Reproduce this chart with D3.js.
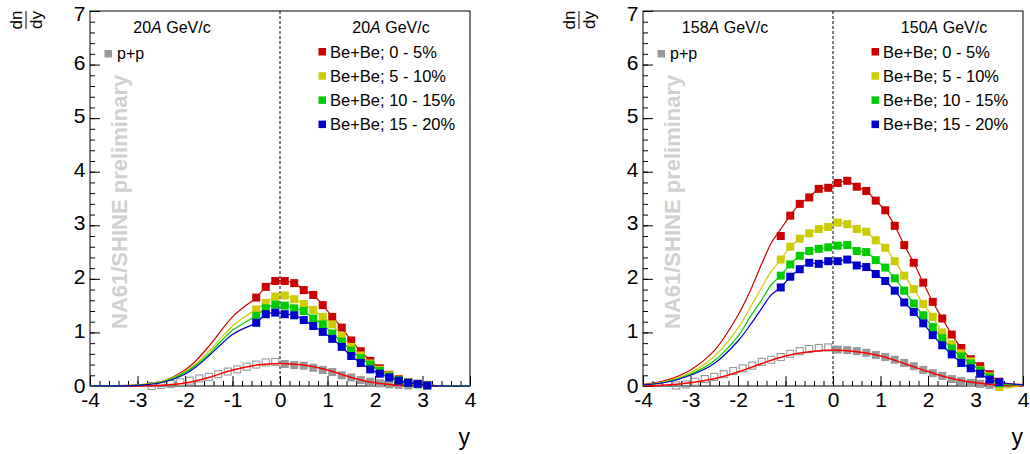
<!DOCTYPE html>
<html>
<head>
<meta charset="utf-8">
<script src="https://cdn.jsdelivr.net/npm/d3@7"></script>
<style>
    body { margin: 0; background: #fff; }
    svg { display: block; font-family: "Liberation Sans", Arial, Helvetica, sans-serif; }
</style>
</head>
<body>
<svg id="chart" width="1030" height="454"></svg>
<script>
// rapidity bins of the measured points
var bins20 = [-0.5, -0.3, -0.1, 0.1, 0.3, 0.5, 0.7, 0.9, 1.1, 1.3, 1.5, 1.7, 1.9, 2.1, 2.3, 2.5, 2.7, 2.9, 3.1];
var bins150 = [-1.1, -0.9, -0.7, -0.5, -0.3, -0.1, 0.1, 0.3, 0.5, 0.7, 0.9, 1.1, 1.3, 1.5, 1.7, 1.9, 2.1, 2.3, 2.5, 2.7, 2.9, 3.1, 3.3, 3.5];

// Be+Be at 20A GeV/c
var bebe20_0_5 = [1.65, 1.85, 1.96, 1.96, 1.92, 1.79, 1.70, 1.51, 1.29, 1.09, 0.85, 0.65, 0.47, 0.33, 0.21, 0.13, 0.07, 0.04, 0.02];
var bebe20_5_10 = [1.43, 1.55, 1.67, 1.69, 1.62, 1.53, 1.42, 1.29, 1.15, 0.93, 0.73, 0.57, 0.42, 0.30, 0.20, 0.12, 0.07, 0.04, 0.02];
var bebe20_10_15 = [1.31, 1.45, 1.52, 1.50, 1.45, 1.40, 1.26, 1.15, 0.98, 0.83, 0.66, 0.52, 0.40, 0.28, 0.18, 0.11, 0.06, 0.03, 0.01];
var bebe20_15_20 = [1.18, 1.34, 1.37, 1.34, 1.32, 1.23, 1.12, 1.01, 0.88, 0.73, 0.56, 0.43, 0.31, 0.23, 0.16, 0.10, 0.06, 0.04, 0.01];

// Be+Be at 150A GeV/c
var bebe150_0_5 = [2.80, 3.18, 3.40, 3.52, 3.68, 3.70, 3.79, 3.83, 3.72, 3.64, 3.46, 3.28, 2.99, 2.63, 2.30, 1.93, 1.57, 1.26, 0.96, 0.71, 0.50, 0.37, 0.22, 0.08];
var bebe150_5_10 = [2.36, 2.60, 2.75, 2.85, 2.93, 2.97, 3.05, 3.02, 2.93, 2.88, 2.72, 2.58, 2.33, 2.06, 1.81, 1.53, 1.29, 1.00, 0.78, 0.61, 0.46, 0.30, 0.18, -0.02];
var bebe150_10_15 = [2.06, 2.27, 2.43, 2.52, 2.56, 2.59, 2.62, 2.63, 2.52, 2.50, 2.35, 2.21, 2.01, 1.78, 1.54, 1.32, 1.10, 0.89, 0.70, 0.55, 0.42, 0.29, 0.16, 0.05];
var bebe150_15_20 = [1.84, 2.04, 2.18, 2.30, 2.28, 2.33, 2.33, 2.36, 2.25, 2.22, 2.09, 1.96, 1.78, 1.56, 1.38, 1.17, 0.95, 0.76, 0.59, 0.43, 0.33, 0.23, 0.12, 0.07];

// p+p points: measured (filled) and reflected (open)
var ppBins20 = [0.1, 0.3, 0.5, 0.7, 0.9, 1.1, 1.3, 1.5, 1.7, 1.9, 2.1, 2.3, 2.5, 2.7];
var pp20 = [0.41, 0.39, 0.38, 0.34, 0.30, 0.26, 0.20, 0.16, 0.11, 0.08, 0.05, 0.03, 0.02, 0.01];
var ppReflBins20 = [-0.1, -0.3, -0.5, -0.7, -0.9, -1.1, -1.3, -1.5, -1.7, -1.9, -2.1, -2.3, -2.5, -2.7];
var ppRefl20 = [0.45, 0.44, 0.40, 0.36, 0.31, 0.27, 0.22, 0.17, 0.14, 0.10, 0.07, 0.04, 0.02, 0.00];
var ppBins158 = [0.1, 0.3, 0.5, 0.7, 0.9, 1.1, 1.3, 1.5, 1.7, 1.9, 2.1, 2.3, 2.5, 2.7, 2.9, 3.1, 3.3, 3.5];
var pp158 = [0.68, 0.67, 0.65, 0.62, 0.58, 0.54, 0.49, 0.43, 0.37, 0.30, 0.24, 0.19, 0.13, 0.09, 0.06, 0.04, 0.02, 0.01];
var ppReflBins158 = [-0.1, -0.3, -0.5, -0.7, -0.9, -1.1, -1.3, -1.5, -1.7, -1.9, -2.1, -2.3, -2.5, -2.7, -2.9, -3.1, -3.3];
var ppRefl158 = [0.72, 0.71, 0.69, 0.65, 0.60, 0.54, 0.49, 0.45, 0.38, 0.33, 0.28, 0.22, 0.17, 0.13, 0.08, 0.03, 0.01];

// fitted curves on the backward side
var fitBins20 = [-4, -3.5, -3, -2.5, -2, -1.75, -1.5, -1.25, -1, -0.75];
var fit20_0_5 = [0, 0.005, 0.02, 0.08, 0.30, 0.49, 0.74, 1.02, 1.29, 1.48];
var fit20_5_10 = [0, 0.005, 0.02, 0.08, 0.27, 0.43, 0.64, 0.89, 1.12, 1.29];
var fit20_10_15 = [0, 0.004, 0.015, 0.07, 0.25, 0.40, 0.59, 0.83, 1.04, 1.18];
var fit20_15_20 = [0, 0.003, 0.013, 0.06, 0.22, 0.37, 0.56, 0.77, 0.96, 1.08];
var tailBins20 = [3.5, 4];
var tail20 = [0, 0];

var fitBins150 = [-4, -3.5, -3, -2.5, -2, -1.75, -1.5, -1.3];
var fitBins150red = [-4, -3.5, -3, -2.5, -2, -1.75, -1.5, -1.3, -1.1];
var fit150_0_5 = [0.03, 0.11, 0.30, 0.66, 1.32, 1.76, 2.28, 2.67, 2.93];
var fit150_5_10 = [0.02, 0.09, 0.25, 0.55, 1.08, 1.45, 1.84, 2.14];
var fit150_10_15 = [0.02, 0.08, 0.22, 0.47, 0.93, 1.28, 1.61, 1.89];
var fit150_15_20 = [0.02, 0.07, 0.20, 0.42, 0.84, 1.13, 1.45, 1.70];
var tailBins150 = [4];

// p+p fits
var ppFitBins = [-4, -3.5, -3, -2.5, -2, -1.5, -1, -0.5, 0, 0.5, 1, 1.5, 2, 2.5, 3, 3.5, 4];
var ppFit20 = [0, 0, 0.002, 0.012, 0.055, 0.16, 0.30, 0.39, 0.42, 0.39, 0.30, 0.16, 0.06, 0.015, 0.002, 0, 0];
var ppFit158 = [0.005, 0.02, 0.06, 0.135, 0.26, 0.42, 0.56, 0.64, 0.67, 0.64, 0.56, 0.42, 0.27, 0.14, 0.06, 0.02, 0.005];

var xTicks = [-4, -3, -2, -1, 0, 1, 2, 3, 4];
var xTickLabels = ['-4', '-3', '-2', '-1', '0', '1', '2', '3', '4'];
var yTicks = [0, 1, 2, 3, 4, 5, 6, 7];
var yTickLabels = ['0', '1', '2', '3', '4', '5', '6', '7'];
var legendLabels = ['Be+Be; 0 - 5%', 'Be+Be; 5 - 10%', 'Be+Be; 10 - 15%', 'Be+Be; 15 - 20%'];
var seriesColors = ['#cc0000', '#cccc00', '#00cc00', '#0000cc'];

function pairs(xs, vs) {
    return xs.map(function (d, i) { return [d, vs[i]]; });
}

var svg = d3.select('#chart');
var fontFamily = '"Liberation Sans", Arial, Helvetica, sans-serif';

function drawPanel(p) {
    var left = p.left;
    var x = d3.scaleLinear().domain([-4, 4]).range([left, left + 380]);
    var y = d3.scaleLinear().domain([0, 7]).range([386, 11]);
    var g = svg.append('g');

    // watermark
    g.append('text')
        .attr('transform', 'translate(' + (left + 37) + ',329) rotate(-90)')
        .attr('font-size', 22)
        .attr('font-weight', 'bold')
        .attr('fill', '#d0d0d0')
        .text('NA61/SHINE preliminary');

    // minor + major ticks, pointing inwards
    var minor = d3.range(-4, 4.001, 0.2);
    g.append('g')
        .attr('transform', 'translate(0,386)')
        .call(d3.axisBottom(x).tickValues(minor).tickSize(-5).tickFormat(''))
        .call(function (a) { a.select('.domain').remove(); });
    var xa = g.append('g')
        .attr('transform', 'translate(0,386)')
        .call(d3.axisBottom(x).tickValues(xTicks).tickSize(-10).tickPadding(6)
            .tickFormat(function (d, i) { return xTickLabels[i]; }))
        .call(function (a) { a.select('.domain').remove(); });
    xa.attr('font-size', 21).attr('font-family', fontFamily);

    g.append('g')
        .attr('transform', 'translate(' + left + ',0)')
        .call(d3.axisLeft(y).tickValues(d3.range(0, 7.001, 0.2)).tickSize(-5).tickFormat(''))
        .call(function (a) { a.select('.domain').remove(); });
    var ya = g.append('g')
        .attr('transform', 'translate(' + left + ',0)')
        .call(d3.axisLeft(y).tickValues(yTicks).tickSize(-10).tickPadding(4.5)
            .tickFormat(function (d, i) { return yTickLabels[i]; }))
        .call(function (a) { a.select('.domain').remove(); });
    ya.attr('font-size', 21).attr('font-family', fontFamily);
    // ROOT keeps the end labels inside the frame height
    ya.selectAll('text').attr('dy', function (d) {
        return d === 7 ? '0.45em' : d === 0 ? '0.3em' : '0.22em';
    });
    g.selectAll('.tick line').attr('stroke', '#000');

    // y = 0 dashed line
    g.append('line')
        .attr('x1', x(0)).attr('x2', x(0))
        .attr('y1', y(7)).attr('y2', y(0))
        .attr('stroke', '#000')
        .attr('stroke-dasharray', '3,2');

    g.append('rect')
        .attr('x', left).attr('y', 11)
        .attr('width', 380).attr('height', 375)
        .attr('fill', 'none')
        .attr('stroke', '#000');

    var line = d3.line()
        .x(function (d) { return x(d[0]); })
        .y(function (d) { return y(d[1]); })
        .curve(d3.curveCatmullRom.alpha(0.5));

    // p+p
    g.append('g').selectAll('rect')
        .data(pairs(p.ppReflBins, p.ppRefl))
        .enter().append('rect')
        .attr('x', function (d) { return x(d[0]) - 3.5; })
        .attr('y', function (d) { return y(d[1]) - 3.5; })
        .attr('width', 7).attr('height', 7)
        .attr('fill', 'none')
        .attr('stroke', '#999')
        .attr('stroke-width', 1.1);
    g.append('g').selectAll('rect')
        .data(pairs(p.ppBins, p.pp))
        .enter().append('rect')
        .attr('x', function (d) { return x(d[0]) - 4; })
        .attr('y', function (d) { return y(d[1]) - 4; })
        .attr('width', 8).attr('height', 8)
        .attr('fill', '#999');
    g.append('path')
        .datum(pairs(ppFitBins, p.ppFit))
        .attr('d', line)
        .attr('fill', 'none')
        .attr('stroke', '#ff0000')
        .attr('stroke-width', 1.5);

    // Be+Be series
    p.series.forEach(function (s, i) {
        var pts = pairs(p.bins, s.values);
        var knots = pairs(s.fitBins, s.fit)
            .concat(pts.slice(s.skip || 0))
            .concat(pairs(p.tailBins, s.tail));
        g.append('path')
            .datum(knots)
            .attr('d', line)
            .attr('fill', 'none')
            .attr('stroke', seriesColors[i])
            .attr('stroke-width', 1.2);
        g.append('g').selectAll('rect')
            .data(pts)
            .enter().append('rect')
            .attr('x', function (d) { return x(d[0]) - 4; })
            .attr('y', function (d) { return y(d[1]) - 4; })
            .attr('width', 8).attr('height', 8)
            .attr('fill', seriesColors[i]);
    });

    // legends
    g.append('text')
        .attr('x', left + 82).attr('y', 33)
        .attr('text-anchor', 'middle')
        .attr('font-size', 16)
        .call(function (t) {
            t.append('tspan').text(p.ppEnergy);
            t.append('tspan').attr('font-style', 'italic').text('A');
            t.append('tspan').text(' GeV/c');
        });
    g.append('rect')
        .attr('x', left + 14.5).attr('y', 50)
        .attr('width', 7.5).attr('height', 7.5)
        .attr('fill', '#999');
    g.append('text')
        .attr('x', left + 27).attr('y', 59)
        .attr('font-size', 16)
        .text('p+p');

    g.append('text')
        .attr('x', left + 301).attr('y', 33)
        .attr('text-anchor', 'middle')
        .attr('font-size', 16)
        .call(function (t) {
            t.append('tspan').text(p.bebeEnergy);
            t.append('tspan').attr('font-style', 'italic').text('A');
            t.append('tspan').text(' GeV/c');
        });
    legendLabels.forEach(function (lab, i) {
        var base = 57.5 + i * 24.2;
        g.append('rect')
            .attr('x', left + 228.5).attr('y', base - 9.5)
            .attr('width', 7.5).attr('height', 7.5)
            .attr('fill', seriesColors[i]);
        g.append('text')
            .attr('x', left + 240).attr('y', base)
            .attr('font-size', 16.5)
            .text(lab);
    });

    // axis titles
    var frac = g.append('g')
        .attr('transform', 'translate(' + (left - 64) + ',20) rotate(-90)')
        .attr('font-size', 17)
        .attr('text-anchor', 'middle');
    frac.append('text').attr('x', 0).attr('y', -4.5).text('dn');
    frac.append('line')
        .attr('x1', -9).attr('x2', 9)
        .attr('y1', 0).attr('y2', 0)
        .attr('stroke', '#000');
    frac.append('text').attr('x', 0).attr('y', 16).text('dy');

    g.append('text')
        .attr('x', left + 380).attr('y', 445)
        .attr('text-anchor', 'end')
        .attr('font-size', 23)
        .text('y');
}

drawPanel({
    left: 90,
    ppEnergy: '20',
    bebeEnergy: '20',
    bins: bins20,
    tailBins: tailBins20,
    ppBins: ppBins20, pp: pp20,
    ppReflBins: ppReflBins20, ppRefl: ppRefl20,
    ppFit: ppFit20,
    series: [
        { values: bebe20_0_5, fitBins: fitBins20, fit: fit20_0_5, tail: tail20 },
        { values: bebe20_5_10, fitBins: fitBins20, fit: fit20_5_10, tail: tail20 },
        { values: bebe20_10_15, fitBins: fitBins20, fit: fit20_10_15, tail: tail20 },
        { values: bebe20_15_20, fitBins: fitBins20, fit: fit20_15_20, tail: tail20 },
    ],
});

drawPanel({
    left: 643,
    ppEnergy: '158',
    bebeEnergy: '150',
    bins: bins150,
    tailBins: tailBins150,
    ppBins: ppBins158, pp: pp158,
    ppReflBins: ppReflBins158, ppRefl: ppRefl158,
    ppFit: ppFit158,
    series: [
        { values: bebe150_0_5, fitBins: fitBins150red, fit: fit150_0_5, tail: [0.03], skip: 1 },
        { values: bebe150_5_10, fitBins: fitBins150, fit: fit150_5_10, tail: [0.02] },
        { values: bebe150_10_15, fitBins: fitBins150, fit: fit150_10_15, tail: [0.02] },
        { values: bebe150_15_20, fitBins: fitBins150, fit: fit150_15_20, tail: [0.02] },
    ],
});
</script>
</body>
</html>
